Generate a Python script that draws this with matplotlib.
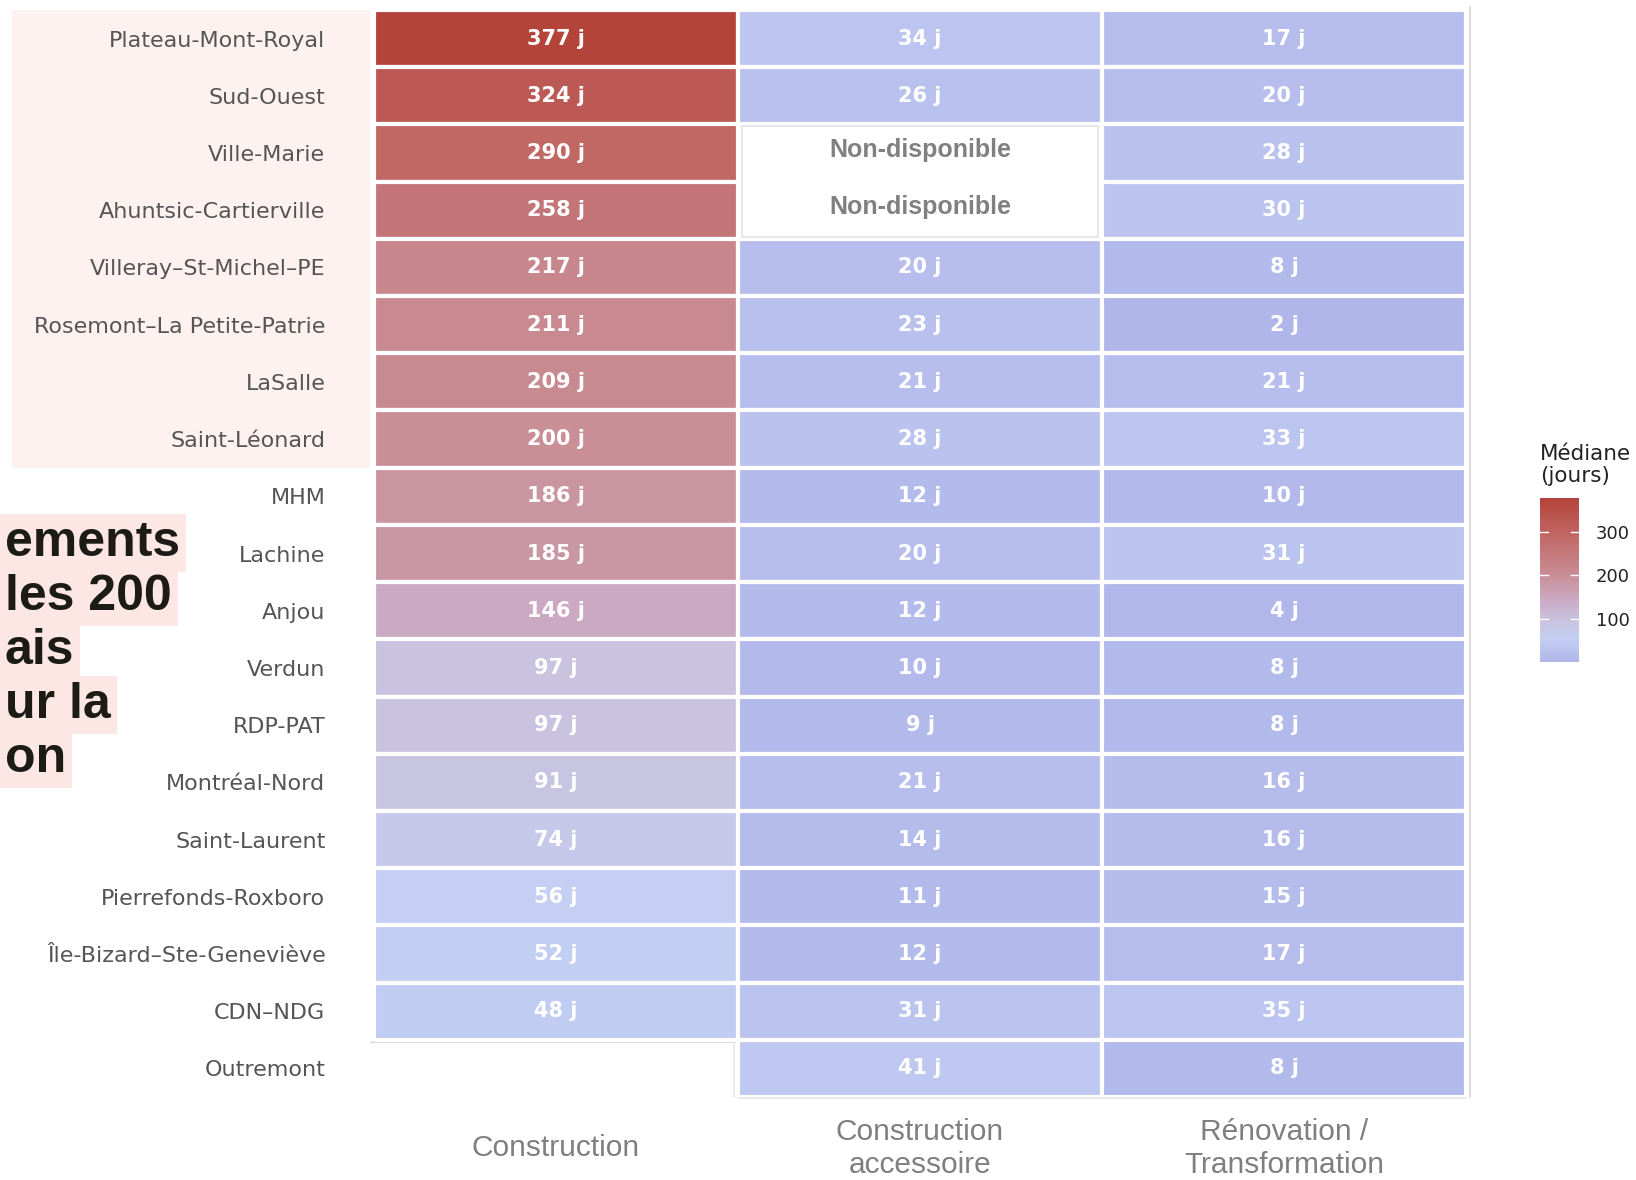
import numpy as np
import matplotlib
matplotlib.use("Agg")
import matplotlib.pyplot as plt
from matplotlib.colors import LinearSegmentedColormap, Normalize
from matplotlib.patches import Rectangle
from matplotlib.transforms import blended_transform_factory

# données : délai médian (jours) par arrondissement et type de permis
arrondissements = [
    "Plateau-Mont-Royal", "Sud-Ouest", "Ville-Marie", "Ahuntsic-Cartierville",
    "Villeray–St-Michel–PE", "Rosemont–La Petite-Patrie", "LaSalle",
    "Saint-Léonard", "MHM", "Lachine", "Anjou", "Verdun", "RDP-PAT",
    "Montréal-Nord", "Saint-Laurent", "Pierrefonds-Roxboro",
    "Île-Bizard–Ste-Geneviève", "CDN–NDG", "Outremont",
]
types_permis = ["Construction", "Construction\naccessoire",
                "Rénovation /\nTransformation"]
construction = [377, 324, 290, 258, 217, 211, 209, 200, 186, 185, 146, 97, 97,
                91, 74, 56, 52, 48, np.nan]
accessoire = [34, 26, np.nan, np.nan, 20, 23, 21, 28, 12, 20, 12, 10, 9, 21,
              14, 11, 12, 31, 41]
renovation = [17, 20, 28, 30, 8, 2, 21, 33, 10, 31, 4, 8, 8, 16, 16, 15, 17,
              35, 8]
# cellules marquées "Non-disponible" (arrondissement, colonne)
non_disponible = [("Ville-Marie", 1), ("Ahuntsic-Cartierville", 1)]
seuil = 200  # arrondissements surlignés
titre_gauche = ["ements", "les 200", "ais", "ur la", "on"]

# palette
cmap = LinearSegmentedColormap.from_list("med", [
    (0.00, "#B0B6EA"), (0.14, "#C4CFF3"), (0.25, "#C9C3E0"),
    (0.38, "#CBAAC4"), (0.52, "#C98F98"), (0.76, "#C26967"),
    (1.00, "#B4433A")])

data = np.array([construction, accessoire, renovation]).T
vmin, vmax = np.nanmin(data), np.nanmax(data)
norm = Normalize(vmin, vmax)
n_rows, n_cols = data.shape

fig = plt.figure(figsize=(16.36, 11.8), dpi=100)
ax = fig.add_axes([374 / 1636, 1 - 1097 / 1180, 1092 / 1636, 1087 / 1180])

# fond rose derrière les arrondissements > seuil
n_hl = int(np.sum(np.array(construction) >= seuil))
tr = blended_transform_factory(fig.transFigure, ax.transData)
fig.patches.append(Rectangle((12 / 1636, -0.5), (370 - 12) / 1636, n_hl,
                             transform=tr, facecolor="#FEF2F1",
                             edgecolor="none", zorder=-5))

# cellules
for i in range(n_rows):
    for j in range(n_cols):
        v = data[i, j]
        if np.isnan(v):
            continue
        ax.add_patch(Rectangle((j - 0.5, i - 0.5), 1, 1,
                               facecolor=cmap(norm(v)), edgecolor="white",
                               linewidth=3, zorder=2))
        ax.text(j, i, f"{int(v)} j", ha="center", va="center",
                color="white", fontsize=15, fontweight="bold",
                family="DejaVu Sans", zorder=3)

# bloc Non-disponible
nd_rows = [arrondissements.index(a) for a, _ in non_disponible]
nd_col = non_disponible[0][1]
ax.add_patch(Rectangle((nd_col - 0.5 + 0.01, min(nd_rows) - 0.5 + 0.03),
                       0.98, len(nd_rows) - 0.06, facecolor="white",
                       edgecolor="#E3E3E3", linewidth=1.2, zorder=2))
for a, j in non_disponible:
    i = arrondissements.index(a)
    ax.text(j, i - 0.06, "Non-disponible", ha="center", va="center",
            color="#808080", fontsize=18, fontweight="bold",
            family="Liberation Sans", zorder=3)

# contour gris clair
ax.plot([n_cols - 0.5 + 0.01] * 2, [-0.55, n_rows - 0.5], color="#D4D4D4",
        lw=1.2, zorder=1, clip_on=False)
ax.plot([0.5, n_cols - 0.5], [n_rows - 0.5 + 0.01] * 2, color="#E6E6E6",
        lw=1.2, zorder=1, clip_on=False)
ax.plot([-0.505, 0.5], [n_rows - 1.5 + 0.03] * 2, color="#D4D4D4",
        lw=1.2, zorder=1, clip_on=False)
ax.plot([0.5 - 0.01] * 2, [n_rows - 1.5, n_rows - 0.5], color="#E6E6E6",
        lw=1.2, zorder=1, clip_on=False)

ax.set_xlim(-0.5, n_cols - 0.5)
ax.set_ylim(n_rows - 0.5, -0.5)
ax.set_yticks(range(n_rows))
ax.set_yticklabels(arrondissements, fontsize=16, color="#555555",
                   family="DejaVu Sans")
ax.set_xticks(range(n_cols))
ax.set_xticklabels(types_permis, fontsize=21.5, color="#7F7F7F",
                   family="Liberation Sans", linespacing=1.2)
for lab in ax.get_xticklabels():
    lab.set_va("center")
ax.tick_params(axis="y", length=0, pad=35)
ax.tick_params(axis="x", length=0, pad=37)
for s in ax.spines.values():
    s.set_visible(False)
ax.set_facecolor("none")

# légende
cax = fig.add_axes([1540 / 1636, 1 - 662 / 1180, 39 / 1636, 164 / 1180])
sm = matplotlib.cm.ScalarMappable(norm=norm, cmap=cmap)
cb = fig.colorbar(sm, cax=cax, ticks=[100, 200, 300])
cb.outline.set_visible(False)
cax.tick_params(length=0, labelsize=13, colors="#222222", pad=12)
for t in [100, 200, 300]:
    cax.plot([0, 0.2], [t, t], color="white", lw=1, transform=cax.get_yaxis_transform())
    cax.plot([0.8, 1], [t, t], color="white", lw=1, transform=cax.get_yaxis_transform())
fig.text(1540 / 1636, 1 - 444 / 1180, "Médiane\n(jours)", fontsize=15.5,
         color="#222222", va="top", ha="left", linespacing=1.1)

# titre coupé à gauche
for k, ligne in enumerate(titre_gauche):
    fig.text(0.003, 1 - (543 + 54 * k) / 1180, ligne, fontsize=36,
             fontweight="bold", color="#1C1B16", va="center", ha="left",
             family="Liberation Sans",
             bbox=dict(facecolor="#FDE7E5", edgecolor="none",
                       boxstyle="square,pad=0.12"))

fig.savefig("out.png", dpi=100)
